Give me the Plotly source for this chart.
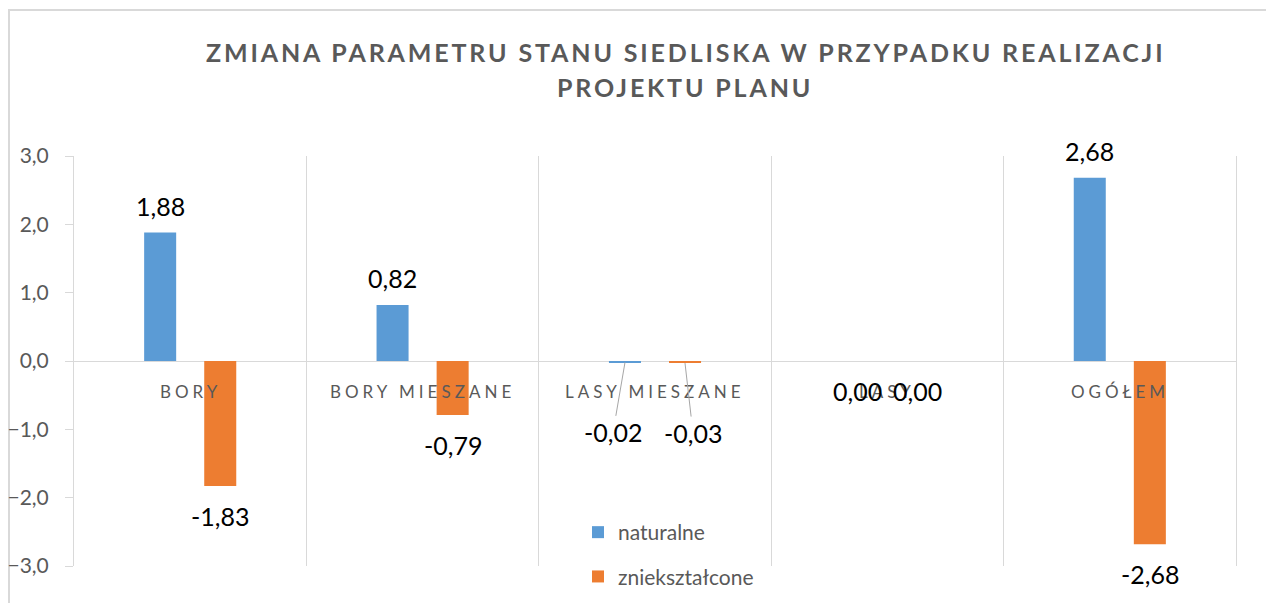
import plotly.graph_objects as go

categories = ["BORY", "BORY MIESZANE", "LASY MIESZANE", "LASY", "OGÓŁEM"]
naturalne = [1.88, 0.82, -0.02, 0.00, 2.68]
znieksztalcone = [-1.83, -0.79, -0.03, 0.00, -2.68]
series_names = ["naturalne", "zniekształcone"]
y_ticks = [-3, -2, -1, 0, 1, 2, 3]
title_lines = ["ZMIANA PARAMETRU STANU SIEDLISKA W PRZYPADKU REALIZACJI", "PROJEKTU PLANU"]

BLUE = "#5B9BD5"
ORANGE = "#ED7D31"
GRAY_TXT = "#595959"
GRID = "#D9D9D9"
FONT = "Lato, 'Open Sans', sans-serif"

W, H = 1266, 603
L, R, T, B = 74, 30, 156, 37
PW, PH = W - L - R, H - T - B

def px_x(p):
    return (p - L) / PW

def px_y(p):
    return (H - B - p) / PH

xs = list(range(len(categories)))

fig = go.Figure()
fig.add_trace(go.Bar(x=xs, y=naturalne, name=series_names[0], marker_color=BLUE,
                     marker_line_width=0, legendgroup="a"))
fig.add_trace(go.Bar(x=xs, y=znieksztalcone, name=series_names[1], marker_color=ORANGE,
                     marker_line_width=0, legendgroup="b"))

annotations = []
# title lines
for k, t in enumerate(title_lines):
    annotations.append(dict(
        x=px_x(685), y=px_y(52 + 35 * k), xref="paper", yref="paper",
        xanchor="center", yanchor="middle", showarrow=False,
        text=f'<span style="letter-spacing:2.85px">{t}</span>',
        font=dict(family=FONT, size=25, color=GRAY_TXT, weight=700)))

# category labels (on zero line)
for i, c in enumerate(categories):
    annotations.append(dict(
        x=i, y=0, xref="x", yref="y", showarrow=False, yshift=-30,
        text=f'<span style="letter-spacing:4px">{c}</span>',
        font=dict(family=FONT, size=17, color=GRAY_TXT)))

def fmt(v):
    return f"{v:.2f}".replace(".", ",")

# data labels
BAR_OFF = 30
for vals, sign in ((naturalne, -1), (znieksztalcone, 1)):
    for i, v in enumerate(vals):
        xshift = sign * BAR_OFF
        if categories[i] == "LASY MIESZANE":
            annotations.append(dict(
                x=i, y=v, xref="x", yref="y", xshift=xshift,
                text=fmt(v), showarrow=True, arrowhead=0, arrowwidth=1,
                arrowcolor="#A6A6A6", ax=(-12 if sign < 0 else 8), ay=70,
                standoff=0, font=dict(family=FONT, size=25, color="#000000")))
        else:
            ys = 27 if v > 0 else -30
            annotations.append(dict(
                x=i, y=v, xref="x", yref="y", xshift=xshift, yshift=ys,
                text=fmt(v), showarrow=False,
                font=dict(family=FONT, size=25, color="#000000")))

fig.update_layout(
    width=W, height=H,
    margin=dict(l=L, r=R, t=T, b=B, autoexpand=False),
    paper_bgcolor="white", plot_bgcolor="white",
    separators=", ",
    barmode="group", bargap=0.483, bargroupgap=0.467,
    xaxis=dict(range=[-0.5, len(categories) - 0.5], showticklabels=False,
               tickvals=[i + 0.5 for i in xs], showgrid=True, gridcolor=GRID,
               gridwidth=1, zeroline=False, showline=False, ticks=""),
    yaxis=dict(range=[y_ticks[0], y_ticks[-1]], tickvals=y_ticks, tickformat=".1f",
               showgrid=False, zeroline=True, zerolinecolor=GRID, zerolinewidth=1,
               showline=True, linecolor=GRID, linewidth=1, mirror=True,
               ticks="outside", ticklen=8, tickcolor=GRID, ticklabelstandoff=12,
               tickfont=dict(family=FONT, size=21, color=GRAY_TXT)),
    legend=dict(x=px_x(578), y=px_y(512), xanchor="left", yanchor="top",
                bgcolor="rgba(0,0,0,0)", tracegroupgap=14,
                font=dict(family=FONT, size=21, color=GRAY_TXT)),
    annotations=annotations,
    shapes=[dict(type="rect", xref="paper", yref="paper",
                 x0=px_x(9), y0=px_y(10), x1=px_x(W + 20), y1=px_y(H + 20),
                 line=dict(color=GRID, width=2), fillcolor="rgba(0,0,0,0)", layer="below")],
    showlegend=True,
)

fig.write_html("out.html",
               config={"displayModeBar": False},
               post_script="document.body.style.margin='0';document.body.style.overflow='hidden';")
